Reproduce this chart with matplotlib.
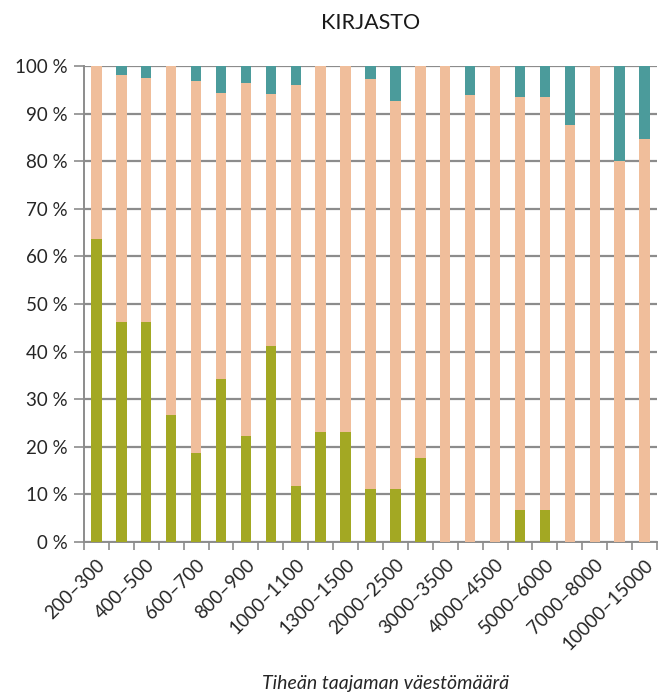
import matplotlib.pyplot as plt
import numpy as np

categories = [
    "200–300", "300–400", "400–500", "500–600", "600–700", "700–800",
    "800–900", "900–1000", "1000–1100", "1100–1300", "1300–1500",
    "1500–2000", "2000–2500", "2500–3000", "3000–3500", "3500–4000",
    "4000–4500", "4500–5000", "5000–6000", "6000–7000", "7000–8000",
    "8000–10000", "10000–15000",
]
# share (%) per category, bottom to top
green = [63.6, 46.2, 46.2, 26.7, 18.75, 34.3, 22.2, 41.2, 11.8, 23.1, 23.1,
         11.1, 11.1, 17.6, 0, 0, 0, 6.7, 6.7, 0, 0, 0, 0]
teal = [0, 1.9, 2.5, 0, 3.2, 5.7, 3.6, 5.8, 4.0, 0, 0,
        2.7, 7.4, 0, 0, 6.2, 0, 6.6, 6.6, 12.5, 0, 20.0, 15.4]
peach = [100 - g - t for g, t in zip(green, teal)]

GREEN = "#A3A823"
PEACH = "#F0BE9B"
TEAL = "#4B9B9B"
GRID = "#8C8C8C"
TXT = "#262626"

plt.rcParams["font.family"] = ["Lato", "DejaVu Sans"]

fig = plt.figure(figsize=(6.61, 6.96), dpi=100)
ax = fig.add_axes([0.127, 0.2213, 0.867, 0.6839])

x = np.arange(len(categories))
w = 0.42
ax.bar(x, green, w, color=GREEN, zorder=3)
ax.bar(x, peach, w, bottom=green, color=PEACH, zorder=3)
ax.bar(x, teal, w, bottom=np.array(green) + np.array(peach), color=TEAL, zorder=3)

ax.set_xlim(-0.5, len(categories) - 0.5)
ax.set_ylim(0, 100)
ax.set_yticks(np.arange(0, 101, 10))
ax.set_yticklabels([f"{v} %" for v in range(0, 101, 10)], fontsize=13.5, color=TXT)
ax.grid(axis="y", color=GRID, linewidth=1.6, zorder=0)

ax.set_xticks(x[::2])
ax.set_xticklabels(categories[::2], rotation=45, ha="right", rotation_mode="anchor",
                   fontsize=13.5, color=TXT)
ax.set_xticks(np.arange(-0.5, len(categories), 1), minor=True)
ax.tick_params(axis="x", which="major", length=0, pad=10)
ax.tick_params(axis="x", which="minor", length=6, width=1.2, color=GRID)
ax.tick_params(axis="y", length=7, width=1.2, color=GRID, pad=4.5)

for side in ["top", "right"]:
    ax.spines[side].set_visible(False)
for side in ["left", "bottom"]:
    ax.spines[side].set_color(GRID)
    ax.spines[side].set_linewidth(1.4)

fig.text(0.561, 0.967, "KIRJASTO", ha="center", va="center", fontsize=15.5,
         color="#1a1a1a")
fig.text(0.584, 0.018, "Tiheän taajaman väestömäärä", ha="center", va="center",
         fontsize=14, style="italic", color=TXT)

plt.savefig("out.png", dpi=100)
